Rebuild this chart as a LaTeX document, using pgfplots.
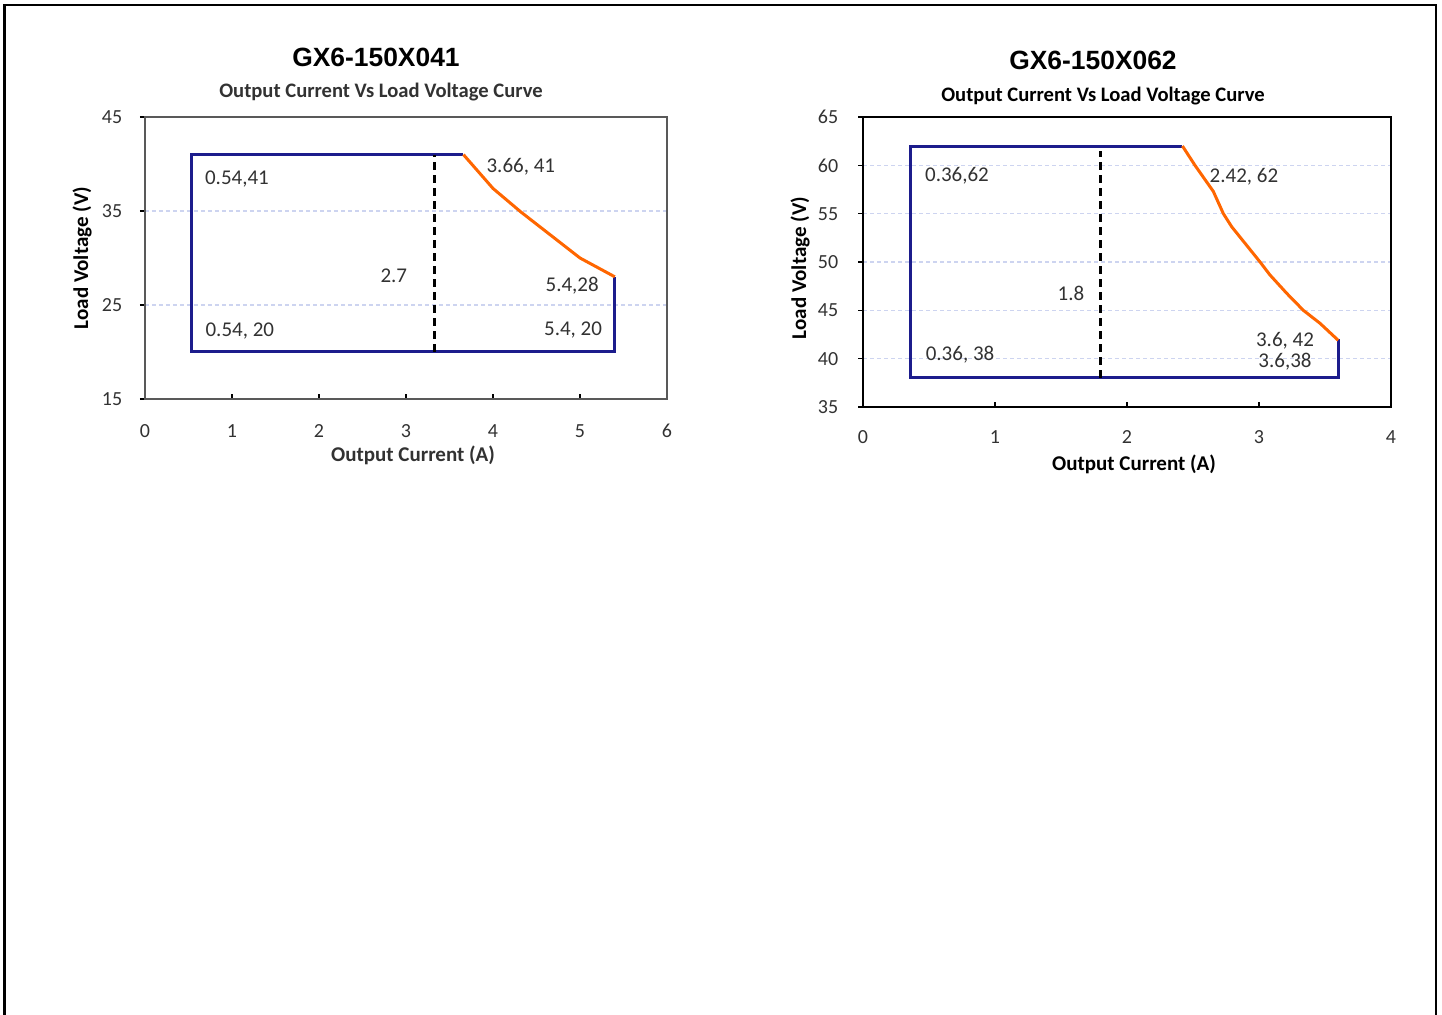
\documentclass[border=0pt]{standalone}
\usepackage{fontspec}
\setmainfont{Carlito}
\newfontfamily\titlefont{Liberation Sans}
\usepackage{pgfplots}
\pgfplotsset{compat=1.18}
\definecolor{rectblue}{RGB}{28,28,140}
\definecolor{curveorange}{RGB}{255,102,0}
\definecolor{gridblue}{RGB}{205,212,240}
\definecolor{txt}{RGB}{50,50,50}
\pgfplotsset{
  common/.style={
    scale only axis,
    /pgf/number format/assume math mode=true,
    ymajorgrids,
    major grid style={dash pattern=on 2pt off 1.5pt, color=gridblue, line width=0.6pt},
    xtick pos=bottom, ytick pos=left,
    xtick align=inside, ytick align=outside,
    major tick length=2.5pt,
    tick style={black, line width=0.6pt},
    ticklabel style={font=\fontsize{10}{12}\selectfont, text=txt},
    xticklabel style={anchor=center},
    yticklabel style={anchor=center},
    clip=false,
  },
}
\tikzset{ann/.style={font=\fontsize{10.5}{12}\selectfont, text=txt}}
\begin{document}
\begin{tikzpicture}
\path[use as bounding box] (0pt,0pt) rectangle (721pt,-507.5pt);
\draw[line width=1.35pt, black] (2.35pt,-507.5pt) -- (2.35pt,-2.5pt) -- (718pt,-2.5pt) -- (718pt,-507.5pt);

% ---------------- Chart 1 ----------------
\node[font=\titlefont\bfseries\fontsize{13.2}{15}\selectfont] at (188pt,-28.5pt) {GX6-150X041};
\node[font=\bfseries\fontsize{10.3}{12}\selectfont, text=txt] at (190.5pt,-46pt) {Output Current Vs Load Voltage Curve};
\node[font=\bfseries\fontsize{10.5}{12}\selectfont, rotate=90] at (41pt,-129pt) {Load Voltage (V)};
\node[font=\bfseries\fontsize{10.5}{12}\selectfont, text=txt] at (206.5pt,-227.5pt) {Output Current (A)};
\begin{axis}[common,
  at={(72.5pt,-199.5pt)}, anchor=south west,
  width=261pt, height=141pt,
  xmin=0, xmax=6, ymin=15, ymax=45,
  xtick={0,1,2,3,4,5,6}, ytick={15,25,35,45},
  axis line style={color=black!65, line width=0.8pt},
  xticklabel style={yshift=-16pt},
  yticklabel style={xshift=-14pt},
]
\addplot[rectblue, line width=1.5pt, line join=miter] coordinates {(3.66,41) (0.54,41) (0.54,20) (5.4,20) (5.4,28)};
\addplot[black, line width=1.3pt, dash pattern=on 4pt off 2.5pt] coordinates {(3.33,20) (3.33,41)};
\addplot[curveorange, line width=1.5pt] coordinates {(3.66,41) (4.0,37.4) (4.32,34.9) (5.0,30) (5.4,28)};
\node[ann] at (axis cs:1.057,38.4) {0.54,41};
\node[ann] at (axis cs:4.32,39.7) {3.66, 41};
\node[ann] at (axis cs:2.86,28.1) {2.7};
\node[ann] at (axis cs:4.91,27.1) {5.4,28};
\node[ann] at (axis cs:1.09,22.2) {0.54, 20};
\node[ann] at (axis cs:4.92,22.3) {5.4, 20};
\end{axis}

% ---------------- Chart 2 ----------------
\node[font=\titlefont\bfseries\fontsize{13.2}{15}\selectfont] at (546.5pt,-30pt) {GX6-150X062};
\node[font=\bfseries\fontsize{10.3}{12}\selectfont] at (551.5pt,-48pt) {Output Current Vs Load Voltage Curve};
\node[font=\bfseries\fontsize{10.5}{12}\selectfont, rotate=90] at (400pt,-134pt) {Load Voltage (V)};
\node[font=\bfseries\fontsize{10.5}{12}\selectfont] at (567pt,-232pt) {Output Current (A)};
\begin{axis}[common,
  at={(431.5pt,-203.5pt)}, anchor=south west,
  width=264pt, height=145pt,
  xmin=0, xmax=4, ymin=35, ymax=65,
  xtick={0,1,2,3,4}, ytick={35,40,45,50,55,60,65},
  axis line style={color=black, line width=0.6pt},
  xticklabel style={yshift=-15pt},
  yticklabel style={xshift=-15pt},
]
\addplot[rectblue, line width=1.5pt, line join=miter] coordinates {(2.42,62) (0.36,62) (0.36,38) (3.6,38) (3.6,42)};
\addplot[black, line width=1.3pt, dash pattern=on 4pt off 2.5pt] coordinates {(1.8,38) (1.8,61.5)};
\addplot[curveorange, line width=1.5pt] coordinates {(2.42,62) (2.515,60) (2.654,57.3) (2.73,55) (2.793,53.65) (3.008,50) (3.083,48.66) (3.21,46.76) (3.336,45) (3.462,43.66) (3.6,41.9)};
\node[ann] at (axis cs:0.712,58.9) {0.36,62};
\node[ann] at (axis cs:2.886,58.8) {2.42, 62};
\node[ann] at (axis cs:1.576,46.8) {1.8};
\node[ann] at (axis cs:3.197,41.83) {3.6, 42};
\node[ann] at (axis cs:3.197,39.66) {3.6,38};
\node[ann] at (axis cs:0.735,40.4) {0.36, 38};
\end{axis}
\end{tikzpicture}
\end{document}
